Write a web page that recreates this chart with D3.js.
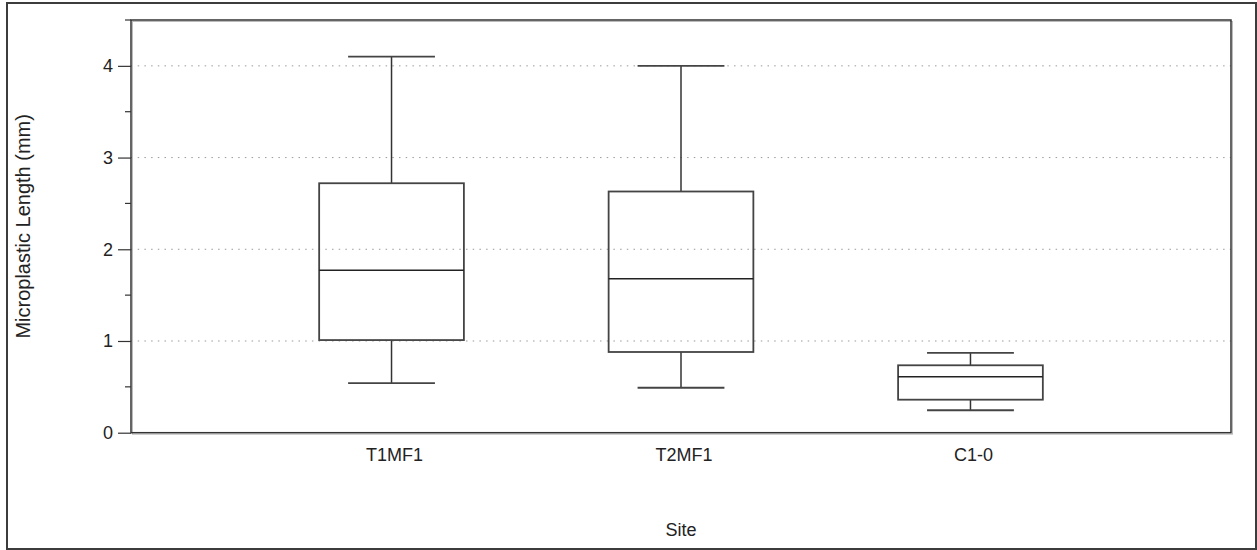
<!DOCTYPE html>
<html>
<head>
<meta charset="utf-8">
<script src="https://cdn.jsdelivr.net/npm/d3@7"></script>
<style>
  html, body { margin: 0; padding: 0; background: #fff; }
  svg { display: block; font-family: "Liberation Sans", Arial, Helvetica, sans-serif; }
</style>
</head>
<body>
<div id="chart"></div>
<script>
// Box plot data
const sites = ['T1MF1', 'T2MF1', 'C1-0'];
const whiskerHigh = [4.10, 4.00, 0.87];
const q3 = [2.72, 2.63, 0.735];
const median = [1.77, 1.68, 0.61];
const q1 = [1.01, 0.88, 0.36];
const whiskerLow = [0.54, 0.49, 0.245];
const yTicks = [0, 1, 2, 3, 4];
const yMinorTicks = [0.5, 1.5, 2.5, 3.5, 4.5];

function drawChart() {
    const W = 1257, H = 550;
    const plot = { left: 131, right: 1231, top: 20, bottom: 432.7 };

    const svg = d3.select('#chart').append('svg')
        .attr('width', W)
        .attr('height', H);

    // Outer border
    svg.append('rect')
        .attr('x', 7).attr('y', 3)
        .attr('width', 1249).attr('height', 546)
        .attr('fill', 'none')
        .attr('stroke', '#3c3c3c')
        .attr('stroke-width', 2);

    const x = d3.scalePoint()
        .domain(sites)
        .range([plot.left, plot.right])
        .padding(0.9);

    const y = d3.scaleLinear()
        .domain([0, 4.5])
        .range([plot.bottom, plot.top]);

    const step = x.step();
    const boxW = step * 0.5;
    const capW = step * 0.3;

    // Dotted grid lines
    svg.append('g')
        .selectAll('line')
        .data(yTicks.filter(d => d > 0))
        .enter()
        .append('line')
        .attr('x1', plot.left)
        .attr('x2', plot.right)
        .attr('y1', d => y(d))
        .attr('y2', d => y(d))
        .attr('stroke', '#9a9a9a')
        .attr('stroke-width', 1)
        .attr('stroke-dasharray', '1.5,5.2');

    // Plot frame with a light shadow
    svg.append('rect')
        .attr('x', plot.left + 1.5).attr('y', plot.top + 1.5)
        .attr('width', plot.right - plot.left).attr('height', plot.bottom - plot.top)
        .attr('fill', 'none')
        .attr('stroke', '#bbb')
        .attr('stroke-width', 1);
    svg.append('rect')
        .attr('x', plot.left).attr('y', plot.top)
        .attr('width', plot.right - plot.left).attr('height', plot.bottom - plot.top)
        .attr('fill', 'none')
        .attr('stroke', '#333')
        .attr('stroke-width', 1.5);

    // Y axis with major and minor ticks
    const yAxis = svg.append('g')
        .attr('transform', `translate(${plot.left},0)`)
        .call(d3.axisLeft(y)
            .tickValues(yTicks)
            .tickSize(13)
            .tickPadding(5)
            .tickFormat(d3.format('d')));
    yAxis.select('.domain').remove();
    yAxis.selectAll('line').attr('stroke', '#333').attr('stroke-width', 1.2);
    yAxis.selectAll('text')
        .attr('font-size', '18px')
        .attr('fill', '#222')
        .attr('font-family', '"Liberation Sans", Arial, sans-serif');

    svg.append('g')
        .selectAll('line')
        .data(yMinorTicks)
        .enter()
        .append('line')
        .attr('x1', plot.left - 6)
        .attr('x2', plot.left)
        .attr('y1', d => y(d))
        .attr('y2', d => y(d))
        .attr('stroke', '#333')
        .attr('stroke-width', 1.2);

    // Boxes
    const data = sites.map((s, i) => ({
        site: s,
        hi: whiskerHigh[i], q3: q3[i], med: median[i], q1: q1[i], lo: whiskerLow[i]
    }));

    const boxes = svg.append('g')
        .selectAll('g')
        .data(data)
        .enter()
        .append('g');

    const stroke = '#333';

    // whisker stems
    boxes.append('line')
        .attr('x1', d => x(d.site)).attr('x2', d => x(d.site))
        .attr('y1', d => y(d.hi)).attr('y2', d => y(d.q3))
        .attr('stroke', stroke).attr('stroke-width', 1.5);
    boxes.append('line')
        .attr('x1', d => x(d.site)).attr('x2', d => x(d.site))
        .attr('y1', d => y(d.q1)).attr('y2', d => y(d.lo))
        .attr('stroke', stroke).attr('stroke-width', 1.5);

    // caps
    boxes.append('line')
        .attr('x1', d => x(d.site) - capW / 2).attr('x2', d => x(d.site) + capW / 2)
        .attr('y1', d => y(d.hi)).attr('y2', d => y(d.hi))
        .attr('stroke', '#444').attr('stroke-width', 1.8);
    boxes.append('line')
        .attr('x1', d => x(d.site) - capW / 2).attr('x2', d => x(d.site) + capW / 2)
        .attr('y1', d => y(d.lo)).attr('y2', d => y(d.lo))
        .attr('stroke', '#444').attr('stroke-width', 1.8);

    // box
    boxes.append('rect')
        .attr('x', d => x(d.site) - boxW / 2)
        .attr('y', d => y(d.q3))
        .attr('width', boxW)
        .attr('height', d => y(d.q1) - y(d.q3))
        .attr('fill', 'none')
        .attr('stroke', '#444')
        .attr('stroke-width', 1.8);

    // median
    boxes.append('line')
        .attr('x1', d => x(d.site) - boxW / 2).attr('x2', d => x(d.site) + boxW / 2)
        .attr('y1', d => y(d.med)).attr('y2', d => y(d.med))
        .attr('stroke', '#222').attr('stroke-width', 1.5);

    // X category labels
    svg.append('g')
        .selectAll('text')
        .data(sites)
        .enter()
        .append('text')
        .attr('x', d => x(d) + 3)
        .attr('y', 461)
        .attr('text-anchor', 'middle')
        .attr('font-size', '18px')
        .attr('fill', '#222')
        .text(d => d);

    // Axis titles
    svg.append('text')
        .attr('x', (plot.left + plot.right) / 2)
        .attr('y', 536)
        .attr('text-anchor', 'middle')
        .attr('font-size', '18px')
        .attr('fill', '#222')
        .text('Site');

    svg.append('text')
        .attr('transform', `translate(30,${(plot.top + plot.bottom) / 2}) rotate(-90)`)
        .attr('text-anchor', 'middle')
        .attr('font-size', '20px')
        .attr('fill', '#222')
        .text('Microplastic Length (mm)');
}

drawChart();
</script>
</body>
</html>
